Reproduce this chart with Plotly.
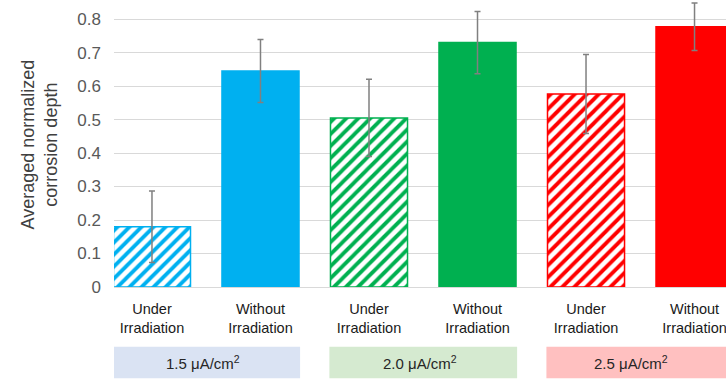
import plotly.graph_objects as go

# ---- data ----
categories = ["Under<br>Irradiation", "Without<br>Irradiation",
              "Under<br>Irradiation", "Without<br>Irradiation",
              "Under<br>Irradiation", "Without<br>Irradiation"]
values = [0.18, 0.645, 0.505, 0.73, 0.576, 0.777]
errors = [0.107, 0.094, 0.115, 0.093, 0.118, 0.071]
irradiated = [True, False, True, False, True, False]
bar_colors = ["#00B0F0", "#00B0F0", "#00B050", "#00B050", "#FF0000", "#FF0000"]
groups = ["1.5 μA/cm<sup>2</sup>", "2.0 μA/cm<sup>2</sup>", "2.5 μA/cm<sup>2</sup>"]
group_fill = ["#DAE3F3", "#D5EAD0", "#FFC0C0"]
yticks = [0, 0.1, 0.2, 0.3, 0.4, 0.5, 0.6, 0.7, 0.8]

FONT = "Liberation Sans, Arial, sans-serif"
xs = list(range(len(values)))

fig = go.Figure()
for x, v, e, h, c in zip(xs, values, errors, irradiated, bar_colors):
    marker = dict(color=c, line=dict(color=c, width=1.5))
    if h:
        marker["color"] = "white"
        marker["pattern"] = dict(shape="/", fgcolor=c, bgcolor="white", fgopacity=1,
                                 size=8.5, solidity=0.45, fillmode="overlay")
    fig.add_trace(go.Bar(
        x=[x], y=[v], width=0.71, marker=marker,
        error_y=dict(type="data", array=[e], visible=True,
                     color="#808080", thickness=1.5, width=3),
        showlegend=False, hoverinfo="skip",
    ))

# group boxes and labels
shapes = []
annotations = []
label_shift = [-0.03, -0.03, -0.09]
for g, (label, fill) in enumerate(zip(groups, group_fill)):
    c = 2 * g + 0.5
    shapes.append(dict(type="rect", xref="x", yref="paper",
                       x0=c - 0.865, x1=c + 0.865, y0=-0.32, y1=-0.21,
                       fillcolor=fill, line=dict(width=0), layer="below"))
    annotations.append(dict(x=c + label_shift[g], y=-0.265, xref="x", yref="paper",
                            text=label, showarrow=False,
                            font=dict(family=FONT, size=15, color="#262626"),
                            xanchor="center", yanchor="middle"))

plot_w = 726 - 114
annotations.append(dict(
    x=(39 - 114) / plot_w, y=0.5, xref="paper", yref="paper",
    text="Averaged normalized<br>corrosion depth",
    showarrow=False, textangle=-90,
    font=dict(family=FONT, size=18, color="#404040"),
    xanchor="center", yanchor="middle"))

fig.update_layout(
    width=726, height=380,
    margin=dict(l=114, r=0, t=2, b=93),
    plot_bgcolor="white", paper_bgcolor="white",
    shapes=shapes,
    annotations=annotations,
    barmode="overlay",
    xaxis=dict(range=[-0.35, 5.29], tickmode="array", tickvals=xs, ticktext=categories,
               showgrid=False, zeroline=False, showline=True, linecolor="#D9D9D9",
               ticks="", tickfont=dict(family=FONT, size=14.5, color="#1a1a1a"),
               ticklabelstandoff=9, ticklabeloverflow="allow"),
    yaxis=dict(range=[0, 0.851], tickmode="array", tickvals=yticks,
               ticktext=[f"{v:g}" for v in yticks],
               showgrid=True, gridcolor="#D9D9D9", gridwidth=1,
               zeroline=False, showline=False, ticks="",
               tickfont=dict(family=FONT, size=17, color="#595959"),
               ticklabelstandoff=12),
)

fig.write_html("out.html", config={"displayModeBar": False},
               post_script="document.body.style.margin='0';")
